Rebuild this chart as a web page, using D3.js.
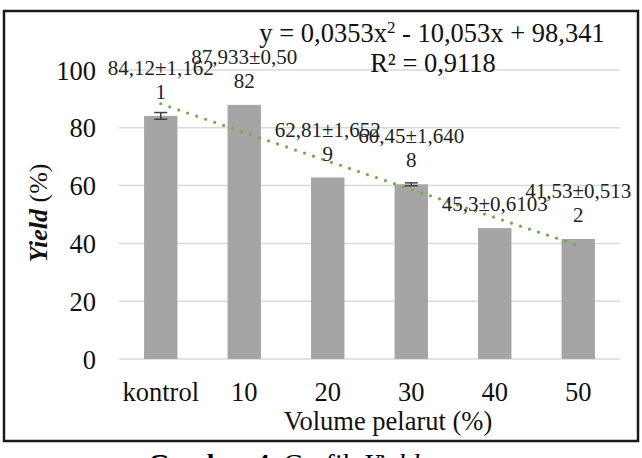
<!DOCTYPE html>
<html>
<head>
<meta charset="utf-8">
<script src="https://cdn.jsdelivr.net/npm/d3@7"></script>
<style>
  html, body { margin: 0; padding: 0; background: #fff; }
  svg { display: block; }
  svg text { font-family: "Liberation Serif", "Times New Roman", Tinos, "DejaVu Serif", serif; }
</style>
</head>
<body>
<svg id="chart" width="642" height="458"></svg>
<script>
// ---- data ----
const categories = ["kontrol", "10", "20", "30", "40", "50"];
const yieldMeans = [84.12, 87.933, 62.81, 60.45, 45.3, 41.53];
const errorBars = [1.16, 0, 0, 0.5, 0, 0]; // visible error-bar half-lengths
const dataLabels = [
  ["84,12±1,162", "1"],
  ["87,933±0,50", "82"],
  ["62,81±1,652", "9"],
  ["60,45±1,640", "8"],
  ["45,3±0,6103"],
  ["41,53±0,513", "2"]
];
const yTicks = [0, 20, 40, 60, 80, 100];
const trendCoef = [0.0353, -10.053, 98.341]; // y = a x^2 + b x + c, x = 1..6
const eqLine1 = ["y = 0,0353x", "2", " - 10,053x + 98,341"];
const eqLine2 = "R² = 0,9118";

// ---- layout ----
const FONT = '"Liberation Serif", "Times New Roman", Tinos, "DejaVu Serif", serif';
const FS = 26.5;
const svg = d3.select("#chart");
const x = d3.scaleBand().domain(categories).range([119, 620]).paddingInner(0.6).paddingOuter(0.3);
const y = d3.scaleLinear().domain([0, 100]).range([359, 70]);

// frame
svg.append("rect").attr("x", 4).attr("y", 11).attr("width", 634).attr("height", 430)
  .attr("fill", "none").attr("stroke", "#1a1a1a").attr("stroke-width", 2.5);

// gridlines
svg.append("g").selectAll("line").data(yTicks).join("line")
  .attr("x1", 119).attr("x2", 620)
  .attr("y1", d => y(d)).attr("y2", d => y(d))
  .attr("stroke", "#d9d9d9").attr("stroke-width", 1.5);

// y axis
const yAxis = d3.axisLeft(y).tickValues(yTicks).tickSize(0).tickPadding(0).tickFormat(d3.format("d"));
const gy = svg.append("g").attr("transform", "translate(96,0)").call(yAxis).attr("font-family", FONT);
gy.select(".domain").remove();
gy.selectAll("text").attr("font-size", FS).attr("fill", "#111").attr("dy", "0.34em");

// x axis
const xAxis = d3.axisBottom(x).tickSize(0).tickPadding(0);
const gx = svg.append("g").attr("transform", "translate(0,401)").call(xAxis).attr("font-family", FONT);
gx.select(".domain").remove();
gx.selectAll("text").attr("font-size", FS).attr("fill", "#111").attr("dy", "0");

// bars
svg.append("g").selectAll("rect").data(yieldMeans).join("rect")
  .attr("x", (d, i) => x(categories[i]))
  .attr("width", x.bandwidth())
  .attr("y", d => y(d))
  .attr("height", d => y(0) - y(d))
  .attr("fill", "#a5a5a5");

// error bars
const eg = svg.append("g").attr("stroke", "#404040").attr("stroke-width", 1.5);
yieldMeans.forEach((m, i) => {
  const s = errorBars[i];
  if (!s) return;
  const cx = x(categories[i]) + x.bandwidth() / 2;
  eg.append("line").attr("x1", cx).attr("x2", cx).attr("y1", y(m + s)).attr("y2", y(m - s));
  eg.append("line").attr("x1", cx - 6.5).attr("x2", cx + 6.5).attr("y1", y(m + s)).attr("y2", y(m + s));
  eg.append("line").attr("x1", cx - 6.5).attr("x2", cx + 6.5).attr("y1", y(m - s)).attr("y2", y(m - s));
});

// trendline
const step = x.step();
const x0 = x(categories[0]) + x.bandwidth() / 2;
const tPts = d3.range(1, 6.001, 0.05).map(t => [x0 + (t - 1) * step, y(trendCoef[0] * t * t + trendCoef[1] * t + trendCoef[2])]);
svg.append("path").attr("d", d3.line()(tPts))
  .attr("fill", "none").attr("stroke", "#70ad47").attr("stroke-width", 3.2)
  .attr("stroke-linecap", "round").attr("stroke-dasharray", "0 9.5");

// data labels
const lg = svg.append("g").attr("font-size", 21).attr("fill", "#222").attr("text-anchor", "middle");
dataLabels.forEach((lines, i) => {
  const cx = x(categories[i]) + x.bandwidth() / 2;
  const lastC = y(yieldMeans[i]) - 24;
  lines.forEach((ln, j) => {
    lg.append("text").attr("x", cx).attr("y", lastC - (lines.length - 1 - j) * 24)
      .attr("dy", "0.34em").text(ln);
  });
});

// equation
const eq = svg.append("text").attr("x", 432).attr("y", 33).attr("dy", "0.34em")
  .attr("text-anchor", "middle").attr("font-size", FS).attr("fill", "#111");
eq.append("tspan").text(eqLine1[0]);
eq.append("tspan").attr("font-size", 17).attr("dy", "-0.55em").text(eqLine1[1]);
eq.append("tspan").attr("dy", "0.35em").text(eqLine1[2]);
svg.append("text").attr("x", 433).attr("y", 63).attr("dy", "0.34em")
  .attr("text-anchor", "middle").attr("font-size", FS).attr("fill", "#111").text(eqLine2);

// axis titles
const yt = svg.append("text").attr("transform", "translate(38.5,213) rotate(-90)")
  .attr("text-anchor", "middle").attr("dy", "0.34em").attr("font-size", 26).attr("fill", "#111");
yt.append("tspan").attr("font-style", "italic").attr("font-weight", "bold").text("Yield");
yt.append("tspan").text(" (%)");

svg.append("text").attr("x", 388).attr("y", 421).attr("dy", "0.34em")
  .attr("text-anchor", "middle").attr("font-size", FS).attr("fill", "#111").text("Volume pelarut (%)");

// caption
const cap = svg.append("text").attr("x", 148).attr("y", 473).attr("font-size", 28).attr("fill", "#000");
cap.append("tspan").attr("font-weight", "bold").text("Gambar 4.");
cap.append("tspan").text(" Grafik ");
cap.append("tspan").attr("font-style", "italic").text("Yield");
</script>
</body>
</html>
